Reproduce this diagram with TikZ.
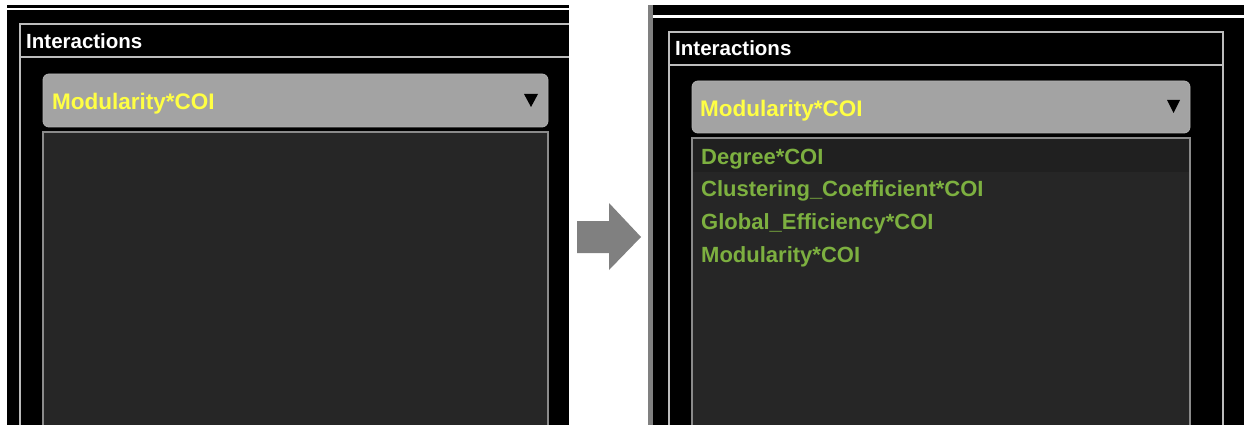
\documentclass[tikz,border=0pt]{standalone}
\usepackage{fontspec}
\setmainfont{Liberation Sans}
\usetikzlibrary{positioning}
\definecolor{panelgray}{RGB}{188,188,188}
\definecolor{dropgray}{RGB}{163,163,163}
\definecolor{dropedge}{RGB}{178,178,178}
\definecolor{listgray}{RGB}{38,38,38}
\definecolor{rowgray}{RGB}{32,32,32}
\definecolor{listedge}{RGB}{138,138,138}
\definecolor{dropyellow}{RGB}{255,255,68}
\definecolor{itemgreen}{RGB}{125,176,64}
\definecolor{arrowgray}{RGB}{128,128,128}

\begin{document}
\begin{tikzpicture}[x=1pt,y=-1pt,
titletext/.style={anchor=base west, inner sep=0pt, text=white, font=\fontsize{20.5}{24}\selectfont\bfseries},
droptext/.style={anchor=base west, inner sep=0pt, text=dropyellow, font=\fontsize{22.5}{26}\selectfont\bfseries},
itemtext/.style={inner sep=0pt, text height=16pt, text depth=5pt, text=itemgreen, font=\fontsize{22}{26}\selectfont\bfseries},
panelline/.style={draw=panelgray, line width=1.2pt},
dropbox/.style={fill=dropgray, draw=dropedge, line width=0.8pt, rounded corners=6pt},
listbox/.style={fill=listgray, draw=listedge, line width=1.2pt}]
\clip (0,0) rectangle (1244,425);
\fill[white] (0,0) rectangle (1244,425);

\fill[black] (7,5) rectangle (569,425);
\fill[white] (7,7.7) rectangle (569,10.3);
\draw[panelline] (569,24) -- (20,24) -- (20,430);
\draw[panelline] (20,57) -- (569,57);
\node[titletext] (titleL) at (26,49) {Interactions};
\draw[dropbox] (43,74) rectangle (548,127);
\node[droptext] (dropL) at (52,110) {Modularity*COI};
\fill[black] (524,94) -- (538,94) -- (531,107) -- cycle;
\draw[listbox] (43,132) rectangle (548,440);

\fill[arrowgray] (577,221) -- (609,221) -- (609,203) -- (641,237) -- (609,270) -- (609,253) -- (577,253) -- cycle;

\fill[arrowgray] (648,5) rectangle (653,425);
\fill[black] (653,5) rectangle (1244,425);
\fill[white] (653,15) rectangle (1244,18);
\draw[panelline] (669,430) -- (669,32) -- (1223,32) -- (1223,430);
\draw[panelline] (669,65) -- (1223,65);
\node[titletext] (titleR) at (675,56) {Interactions};
\draw[dropbox] (692,81) rectangle (1190,133);
\node[droptext] (dropR) at (700,117) {Modularity*COI};
\fill[black] (1167,100) -- (1180,100) -- (1173.5,113) -- cycle;
\draw[listbox] (692,138) rectangle (1190,440);
\fill[rowgray] (693,139) rectangle (1189,172);

\node[itemtext, anchor=base west] (deg) at (701,164) {Degree*COI};
\node[itemtext, below=11.5pt of deg.south west, anchor=north west] (clus) {Clustering\_Coefficient*COI};
\node[itemtext, below=11.5pt of clus.south west, anchor=north west] (glob) {Global\_Efficiency*COI};
\node[itemtext, below=11.5pt of glob.south west, anchor=north west] (modu) {Modularity*COI};
\end{tikzpicture}
\end{document}
